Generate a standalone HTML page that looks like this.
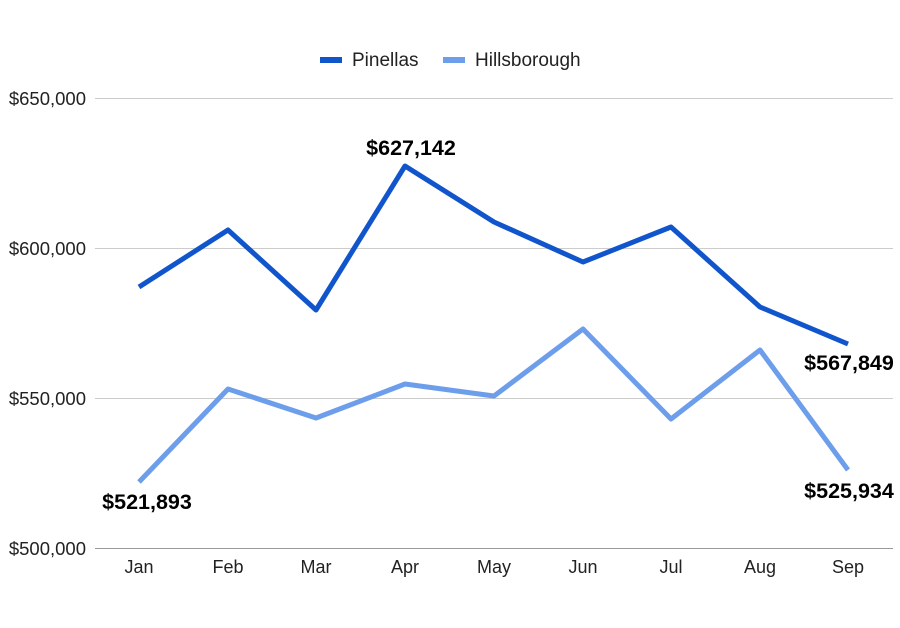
<!DOCTYPE html>
<html><head><meta charset="utf-8"><style>
html,body{margin:0;padding:0;background:#fff;}
svg{display:block;font-family:"Liberation Sans",Arial,sans-serif;}
</style></head><body>
<svg width="900" height="628" viewBox="0 0 900 628">
<rect width="900" height="628" fill="#fff"/>
<g stroke="#ccc" stroke-width="1">
<line x1="95" y1="98.5" x2="893" y2="98.5"/>
<line x1="95" y1="248.5" x2="893" y2="248.5"/>
<line x1="95" y1="398.5" x2="893" y2="398.5"/>
</g>
<line x1="95" y1="548.5" x2="893" y2="548.5" stroke="#999" stroke-width="1"/>
<g font-size="18.5" fill="#222" text-anchor="end">
<text x="86" y="105">$650,000</text>
<text x="86" y="255">$600,000</text>
<text x="86" y="405">$550,000</text>
<text x="86" y="555">$500,000</text>
</g>
<g font-size="18" fill="#222" text-anchor="middle">
<text x="139" y="573">Jan</text><text x="228" y="573">Feb</text><text x="316" y="573">Mar</text>
<text x="405" y="573">Apr</text><text x="494" y="573">May</text><text x="583" y="573">Jun</text>
<text x="671" y="573">Jul</text><text x="760" y="573">Aug</text><text x="848" y="573">Sep</text>
</g>
<polyline fill="none" stroke="#6d9eeb" stroke-width="5" stroke-linejoin="round" points="139,482 228,389 316,418 405,384 494,396 583,329 671,419 760,350 848,470"/>
<polyline fill="none" stroke="#1155cc" stroke-width="5" stroke-linejoin="round" points="139,287 228,230 316,310 405,166 494,222 583,262 671,227 760,307 848,344"/>
<g font-size="21.5" font-weight="bold" fill="#000" text-anchor="middle">
<text x="411" y="155">$627,142</text>
<text x="849" y="370">$567,849</text>
<text x="147" y="509">$521,893</text>
<text x="849" y="498">$525,934</text>
</g>
<rect x="320" y="57" width="22" height="6" fill="#1155cc"/>
<text x="352" y="66" font-size="19" fill="#222">Pinellas</text>
<rect x="443" y="57" width="22" height="6" fill="#6d9eeb"/>
<text x="475" y="66" font-size="19" fill="#222">Hillsborough</text>
</svg>
</body></html>
